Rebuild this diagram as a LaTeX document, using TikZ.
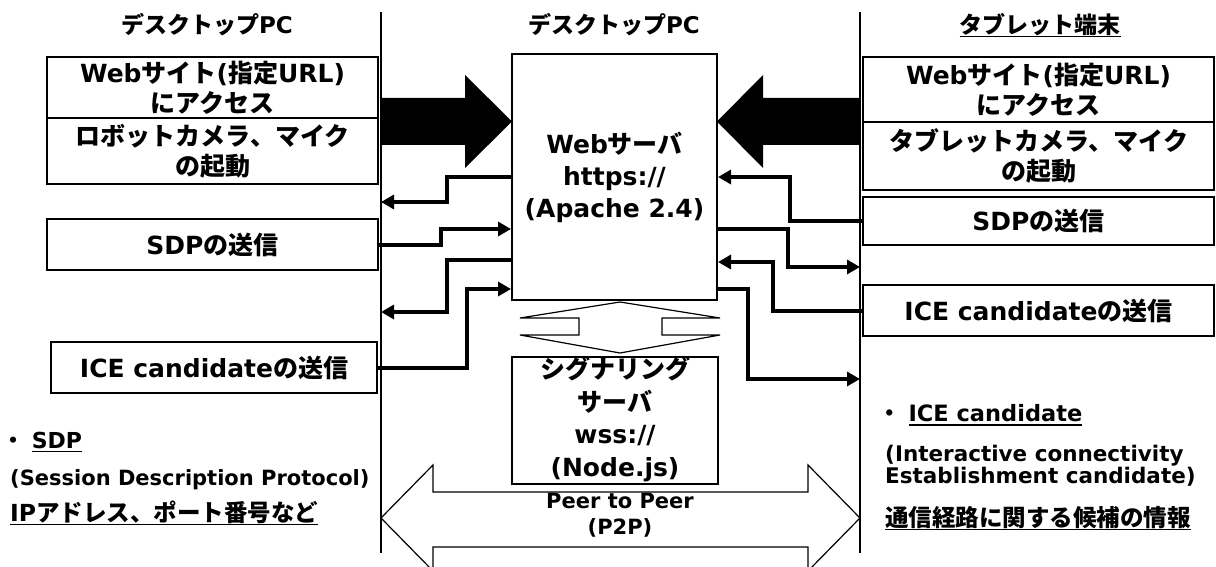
\documentclass[tikz,border=0pt]{standalone}
\usepackage{fontspec}
\setmainfont{DejaVu Sans}
\newfontfamily\jp{Noto Sans CJK JP}
\usetikzlibrary{arrows.meta}
\newcommand\J[1]{{\jp #1}}
\newcommand\myul[1]{\leavevmode\setbox0=\hbox{#1}\rlap{\rule[-4pt]{\wd0}{1.5pt}}\box0}
\newcommand\fs[2]{\fontsize{#1}{#2}\selectfont}
\begin{document}
\begin{tikzpicture}[x=1pt,y=-1pt,
  box/.style={draw,line width=2pt,inner sep=0pt,align=center,font=\bfseries\fs{25}{30}},
  conn/.style={line width=4pt,-{Triangle[length=13pt,width=14pt]}},
  vline/.style={line width=2.5pt},
  hollow/.style={draw,fill=white,line width=1.2pt,line join=miter},
  txt/.style={inner sep=0pt,font=\bfseries\fs{25}{30}},
  head/.style={inner sep=0pt,font=\bfseries\fs{23}{28}},
  note/.style={inner sep=0pt,anchor=west,align=left},
]
\useasboundingbox (0,0) rectangle (1216,567);

% big black arrows
\fill (381,98) -- (465,98) -- (465,75) -- (512,121.5) -- (465,168) -- (465,145) -- (381,145) -- cycle;
\fill (860,98) -- (763,98) -- (763,75) -- (717,121.5) -- (763,168) -- (763,145) -- (860,145) -- cycle;

% lifelines
\coordinate (LT) at (381,12); \coordinate (LB) at (381,553);
\coordinate (RT) at (860,12); \coordinate (RB) at (860,553);
\draw[vline] (LT) -- (LB);
\draw[vline] (RT) -- (RB);

% titles
\node[head] (hl) at (207,25) {\J{デスクトップ}PC};
\node[head] (hc) at (614,25) {\J{デスクトップ}PC};
\node[head] (hr) at (1040,25) {\myul{\J{タブレット端末}}};

% left boxes
\node[box,minimum width=331pt,minimum height=61pt] (lb1) at (212.5,87.5) {Web\J{サイト}(\J{指定}URL)\\\J{にアクセス}};
\node[box,minimum width=331pt,minimum height=66pt] (lb2) at (212.5,151) {\J{ロボットカメラ、マイク}\\\J{の起動}};
\node[box,minimum width=331pt,minimum height=51pt] (lsdp) at (212.5,244.5) {SDP\J{の送信}};
\node[box,minimum width=326pt,minimum height=51pt] (lice) at (214,367.5) {ICE candidate\J{の送信}};

% right boxes
\node[box,minimum width=351pt,minimum height=65pt] (rb1) at (1038.5,89.5) {Web\J{サイト}(\J{指定}URL)\\\J{にアクセス}};
\node[box,minimum width=351pt,minimum height=68pt] (rb2) at (1038.5,156) {\J{タブレットカメラ、マイク}\\\J{の起動}};
\node[box,minimum width=351pt,minimum height=48pt] (rsdp) at (1038.5,221) {SDP\J{の送信}};
\node[box,minimum width=351pt,minimum height=51pt] (rice) at (1038.5,310.5) {ICE candidate\J{の送信}};

% web server
\node[box,minimum width=205pt,minimum height=246pt,font=\bfseries\fs{25}{32}] (web) at (614.5,177) {Web\J{サーバ}\\https://\\(Apache 2.4)};

% hollow vertical double arrow
\draw[hollow] (620,302) -- (720,318) -- (662,318) -- (662,335) -- (720,335) -- (620,353) -- (520,335) -- (579,335) -- (579,318) -- (520,318) -- cycle;

% signaling server
\node[box,minimum width=206pt,minimum height=127pt] (sig) at (615,420.5) {};
\node[txt,align=center,font=\bfseries\fs{25}{32.5}] (sigt) at (615,419) {\J{シグナリング}\\\J{サーバ}\\wss://\\(Node.js)};

% P2P arrow
\draw[hollow] (381,518) -- (433,465) -- (433,492) -- (808,492) -- (808,465) -- (860,518) -- (808,571) -- (808,547) -- (433,547) -- (433,571) -- cycle;
\node[txt,align=center,font=\bfseries\fs{21}{26}] (p2p) at (620,515) {Peer to Peer\\(P2P)};

% left connectors
\draw[conn] (web.west |- 0,177) -| (447,202) -- (LT |- 0,202);
\draw[conn] (lsdp.east) -| (441,229) -- (web.west |- 0,229);
\draw[conn] (web.west |- 0,260) -| (447,312) -- (LT |- 0,312);
\draw[conn] (lice.east) -| (467,289) -- (web.west |- 0,289);

% right connectors
\draw[conn] (rsdp.west) -| (790,177) -- (web.east |- 0,177);
\draw[conn] (web.east |- 0,229) -| (788,267) -- (RT |- 0,267);
\draw[conn] (rice.west) -| (773,262) -- (web.east |- 0,262);
\draw[conn] (web.east |- 0,289) -| (748,379) -- (RT |- 0,379);

% notes left
\node[note,font=\bfseries\fs{22}{26}] (bl1) at (2,442) {\J{・} \myul{SDP}};
\node[note,font=\bfseries\fs{21}{26}] (bl2) at (10,480) {(Session Description Protocol)};
\node[note,font=\bfseries\fs{23.5}{28}] (bl3) at (10,513) {\myul{IP\J{アドレス、ポート番号など}}};

% notes right
\node[note,font=\bfseries\fs{22.5}{26}] (br1) at (878,415) {\J{・} \myul{ICE candidate}};
\node[note,font=\bfseries\fs{21.5}{22}] (br2) at (885,466) {(Interactive connectivity\\Establishment candidate)};
\node[note,font=\bfseries\fs{23.5}{28}] (br3) at (885,518) {\myul{\J{通信経路に関する候補の情報}}};
\end{tikzpicture}
\end{document}
